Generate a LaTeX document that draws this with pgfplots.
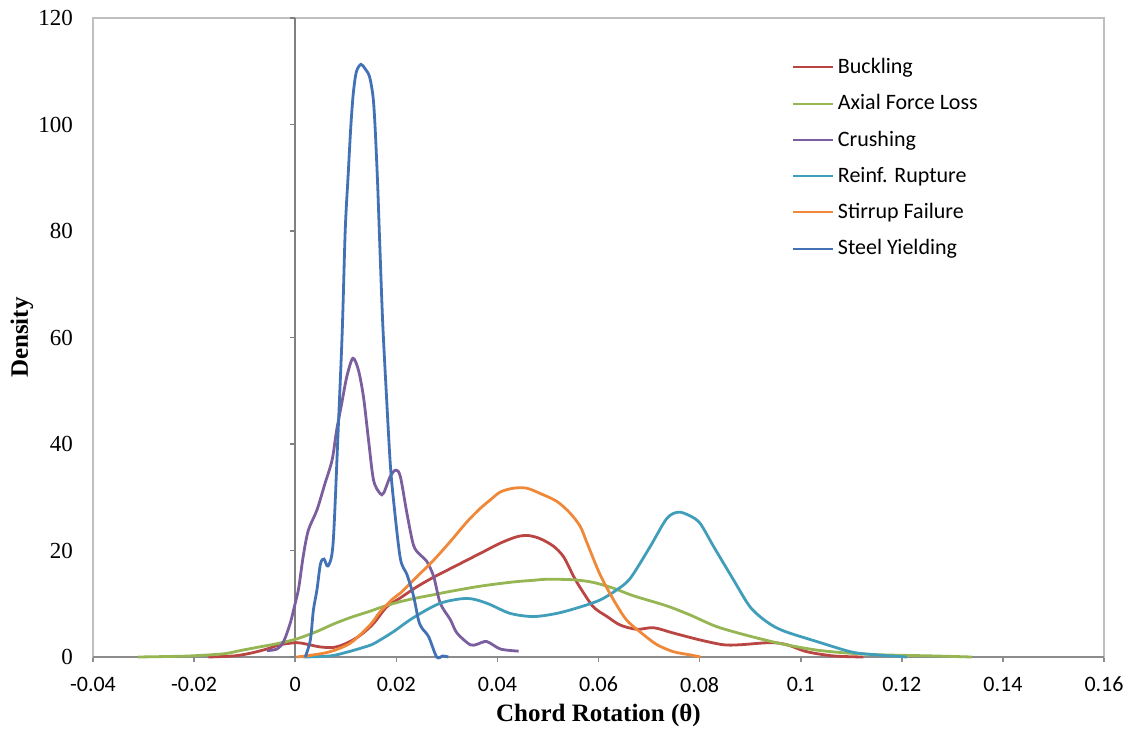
\documentclass[border=0pt]{standalone}
\usepackage{fontspec}
\setmainfont{Liberation Serif}
\newfontfamily\carlito{Carlito}
\usepackage{pgfplots}
\pgfplotsset{compat=1.18}
\definecolor{cBuck}{HTML}{BA4643}
\definecolor{cAxial}{HTML}{95B653}
\definecolor{cCrush}{HTML}{7B5E9E}
\definecolor{cReinf}{HTML}{409EBA}
\definecolor{cStir}{HTML}{F0883A}
\definecolor{cSteel}{HTML}{4272B5}
\pgfplotsset{legend image code/.code={\draw[#1, line width=1pt] (0pt,0pt) -- (20pt,0pt);}}
\begin{document}
\begin{tikzpicture}
\begin{axis}[
  scale only axis, width=505.5pt, height=319.5pt,
  xmin=-0.04, xmax=0.16, ymin=0, ymax=120,
  axis line style={black!25, line width=0.6pt},
  xtick={-0.04,-0.02,0,0.02,0.04,0.06,0.08,0.1,0.12,0.14,0.16},
  xticklabels={-0.04,-0.02,0,0.02,0.04,0.06,0.08,0.1,0.12,0.14,0.16},
  xtick pos=left,
  tick align=outside,
  major tick length=2.5pt,
  xtick style={black!45, line width=0.8pt},
  ytick={0,20,40,60,80,100,120},
  ytick style={draw=none},
  /pgf/number format/assume math mode=true,
  yticklabel style={font=\fontsize{11.5}{12}\selectfont, xshift=-4pt},
  xticklabel style={font=\carlito\fontsize{11}{12}\selectfont, yshift=-4pt},
  xlabel={Chord Rotation (θ)},
  ylabel={Density},
  xlabel style={font=\bfseries\fontsize{12.5}{14}\selectfont, at={(axis description cs:0.5,-0.0908)}, anchor=center},
  ylabel style={font=\bfseries\fontsize{12.5}{14}\selectfont, at={(axis description cs:-0.0702,0.5)}, anchor=center},
  clip=false,
  legend style={at={(0.685,0.95)}, anchor=north west, draw=none, fill=none,
    font=\carlito\fontsize{11}{13}\selectfont, row sep=5pt},
  legend cell align=left,
  every axis plot/.append style={line width=1.4pt, smooth, tension=0.5},
]
\path ([shift={(-46.5pt,-35.5pt)}]rel axis cs:0,0) rectangle ([shift={(13.5pt,9pt)}]rel axis cs:1,1);
\draw[black!45, line width=0.8pt] (rel axis cs:0,0) -- (rel axis cs:1,0);
\draw[black!50, line width=0.8pt] (axis cs:0,0) -- (axis cs:0,120);
\pgfplotsinvokeforeach{0,20,40,60,80,100,120}{\draw[black!50, line width=0.8pt] (axis cs:0,#1) -- ++(-2.5pt,0pt);}

\addplot[cBuck] table {
-0.0172 0
-0.0122 0.2
-0.0089 0.7
-0.0056 1.5
-0.0030 2.3
0.0003 2.7
0.0023 2.4
0.0049 1.9
0.0076 1.8
0.0102 2.6
0.0129 4.1
0.0155 6.3
0.0181 9.4
0.0208 11.1
0.0241 13.2
0.0274 15
0.0307 16.6
0.0340 18.2
0.0373 19.8
0.0406 21.4
0.0439 22.6
0.0462 22.8
0.0485 22.2
0.0511 20.8
0.0531 18.8
0.0551 15.1
0.0564 13
0.0590 9.4
0.0617 7.6
0.0643 6
0.0676 5.2
0.0709 5.5
0.0748 4.5
0.0801 3.2
0.0847 2.3
0.0880 2.3
0.0940 2.7
0.0973 2.3
0.1012 1
0.1065 0.2
0.1124 0
};
\addlegendentry{Buckling}

\addplot[cAxial] table {
-0.0311 0
-0.0250 0.1
-0.0208 0.2
-0.0142 0.6
-0.0109 1.2
-0.0076 1.8
-0.0036 2.5
0.0003 3.4
0.0043 4.8
0.0076 6.2
0.0109 7.4
0.0148 8.6
0.0175 9.5
0.0208 10.4
0.0241 11.1
0.0274 11.7
0.0300 12.2
0.0366 13.3
0.0432 14.1
0.0471 14.4
0.0498 14.6
0.0551 14.5
0.0590 14
0.0630 12.9
0.0669 11.5
0.0735 9.6
0.0781 7.9
0.0834 5.7
0.0900 3.9
0.0966 2.4
0.1032 1.3
0.1098 0.7
0.1164 0.4
0.1263 0.2
0.1339 0
};
\addlegendentry{Axial Force Loss}

\addplot[cCrush] table {
-0.0056 1.2
-0.0036 1.5
-0.0023 2.9
-0.0010 6.3
0.0000 10.1
0.0007 13
0.0016 19
0.0026 23.8
0.0043 27.6
0.0059 32.6
0.0073 37
0.0082 42.6
0.0092 47.6
0.0102 52.6
0.0114 56.1
0.0125 53.9
0.0135 48.9
0.0145 40.8
0.0155 33.2
0.0168 30.7
0.0175 30.8
0.0188 33.9
0.0199 35.1
0.0208 33.9
0.0221 27
0.0234 21
0.0247 19.2
0.0260 18
0.0274 15.1
0.0287 10.1
0.0307 7
0.0320 4.5
0.0346 2.3
0.0360 2.4
0.0379 2.9
0.0406 1.5
0.0442 1.1
};
\addlegendentry{Crushing}

\addplot[cReinf] table {
0.0016 0
0.0069 0.2
0.0102 0.9
0.0148 2.2
0.0168 3.2
0.0195 4.8
0.0234 7.4
0.0287 10.1
0.0340 11
0.0379 10.1
0.0425 8.2
0.0471 7.6
0.0518 8.2
0.0564 9.4
0.0603 10.7
0.0636 12.6
0.0663 14.8
0.0702 20.7
0.0735 26
0.0758 27.2
0.0781 26.5
0.0801 25.1
0.0828 20.7
0.0867 14.5
0.0900 9.4
0.0933 6.6
0.0966 4.9
0.1032 2.9
0.1098 1
0.1137 0.5
0.1210 0
};
\addlegendentry{Reinf. Rupture}

\addplot[cStir] table {
0.0003 0
0.0036 0.4
0.0069 1
0.0109 2.6
0.0148 6
0.0168 8.5
0.0194 11
0.0208 12
0.0241 15.1
0.0274 18.2
0.0307 21.7
0.0340 25.4
0.0366 27.9
0.0386 29.5
0.0406 31
0.0432 31.7
0.0458 31.7
0.0485 30.7
0.0518 29.2
0.0544 27
0.0564 24.5
0.0577 21.5
0.0603 15.5
0.0630 10.7
0.0656 6.9
0.0689 4.2
0.0716 2.3
0.0748 1
0.0781 0.4
0.0802 0
};
\addlegendentry{Stirrup Failure}

\addplot[cSteel] table {
0.0020 0
0.0030 3.2
0.0036 8.8
0.0043 12.6
0.0050 17.5
0.0057 18.4
0.0065 17.1
0.0075 21.4
0.0085 42.6
0.0093 61
0.0099 80.2
0.0105 90.9
0.0110 99.6
0.0115 105.9
0.0121 109.9
0.0130 111.3
0.0138 110.5
0.0147 109
0.0154 105.2
0.0158 99.6
0.0163 89
0.0167 78.3
0.0173 63
0.0180 50
0.0188 36.4
0.0195 29
0.0208 18.5
0.0221 15.5
0.0234 11.5
0.0244 6.9
0.0251 5.4
0.0264 3.8
0.0280 0
0.0292 0.2
0.0303 0
};
\addlegendentry{Steel Yielding}
\end{axis}
\end{tikzpicture}
\end{document}
